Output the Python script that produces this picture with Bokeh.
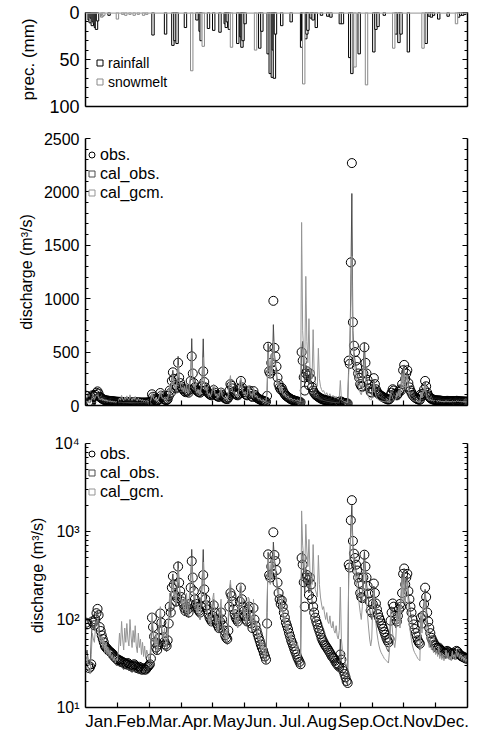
import numpy as np
from bokeh.plotting import figure
from bokeh.models import Range1d, FixedTicker, LinearAxis, LogAxis, Legend, LegendItem, Span
from bokeh.layouts import column
from bokeh.embed import file_html
from bokeh.resources import INLINE

FONT = "Liberation Sans"
DAYS = 365

months = ["Jan.", "Feb.", "Mar.", "Apr.", "May", "Jun.", "Jul.", "Aug.",
          "Sep.", "Oct.", "Nov.", "Dec."]

# daily discharge (m3/s), one row per month
obs = [
    92, 88, 30, 28, 29, 31, 95, 92, 86, 100, 118, 132, 112, 82, 74, 66, 60, 55, 50, 48, 47, 45, 44, 43, 42, 41, 40, 38, 37, 36, 35,
    35, 34, 34, 33, 33, 32, 32, 31, 31, 32, 31, 30, 30, 29, 30, 31, 30, 29, 28, 28, 29, 28, 27, 27, 28, 27, 27, 28,
    29, 30, 31, 36, 105, 82, 64, 55, 48, 45, 52, 62, 117, 92, 76, 63, 56, 52, 50, 58, 90, 140, 120, 230, 311, 250, 190, 160, 175, 400, 262,
    210, 180, 160, 150, 135, 125, 140, 130, 120, 150, 230, 460, 300, 210, 170, 150, 140, 130, 125, 120, 140, 180, 320, 220, 170, 145, 130, 115, 105, 100,
    95, 110, 145, 120, 100, 90, 85, 80, 95, 120, 100, 85, 75, 66, 62, 60, 75, 140, 200, 185, 160, 130, 115, 105, 100, 95, 110, 160, 230, 170, 140,
    125, 110, 100, 95, 130, 140, 110, 90, 80, 135, 100, 85, 75, 68, 62, 57, 52, 48, 45, 41, 38, 35, 90, 550, 320, 300, 400, 330, 980, 540,
    460, 365, 262, 200, 170, 150, 165, 140, 120, 105, 92, 85, 78, 70, 64, 58, 54, 50, 46, 43, 40, 37, 35, 33, 31, 500, 420, 265, 140, 300, 320,
    280, 190, 300, 250, 170, 140, 120, 105, 95, 88, 80, 74, 68, 62, 58, 55, 52, 50, 48, 46, 44, 42, 40, 38, 37, 36, 34, 32, 31, 30, 29,
    40, 35, 28, 26, 24, 22, 20, 19, 420, 390, 1340, 2270, 780, 560, 500, 420, 360, 300, 260, 200, 180, 175, 300, 545, 400, 300, 240, 197, 160, 127,
    120, 150, 256, 200, 152, 130, 115, 105, 98, 90, 84, 78, 72, 67, 62, 58, 55, 60, 97, 120, 152, 140, 110, 100, 95, 110, 130, 150, 140, 200, 330,
    380, 250, 300, 330, 210, 170, 140, 120, 100, 88, 78, 70, 64, 58, 55, 53, 105, 90, 110, 150, 230, 180, 120, 95, 80, 70, 62, 58, 55, 52,
    50, 48, 47, 48, 46, 45, 44, 43, 42, 41, 42, 44, 43, 42, 41, 40, 41, 42, 41, 40, 44, 43, 41, 40, 39, 38, 38, 37, 37, 36, 36,
]

cal_obs = [
    40, 45, 35, 32, 30, 60, 90, 80, 75, 95, 110, 125, 90, 70, 62, 56, 50, 46, 44, 42, 40, 39, 37, 36, 35, 34, 33, 32, 31, 30, 30,
    30, 29, 31, 30, 28, 27, 29, 28, 27, 28, 26, 27, 26, 25, 27, 26, 25, 26, 25, 24, 26, 25, 24, 25, 26, 25, 24, 26,
    27, 28, 30, 45, 95, 70, 55, 48, 43, 40, 48, 75, 110, 80, 62, 54, 48, 45, 43, 55, 95, 170, 110, 260, 330, 210, 170, 140, 190, 460, 250,
    190, 160, 140, 150, 120, 110, 160, 120, 105, 180, 260, 626, 270, 190, 150, 130, 120, 115, 105, 100, 150, 260, 624, 230, 160, 130, 115, 100, 92, 88,
    100, 140, 170, 110, 90, 80, 75, 70, 110, 140, 90, 75, 65, 58, 55, 52, 90, 180, 250, 160, 130, 110, 100, 92, 88, 84, 130, 190, 240, 150, 120,
    105, 95, 88, 85, 150, 160, 100, 82, 72, 150, 95, 78, 68, 60, 54, 50, 46, 42, 39, 36, 34, 32, 120, 580, 300, 260, 420, 300, 757, 480,
    400, 300, 220, 180, 150, 130, 160, 120, 100, 88, 78, 70, 64, 58, 53, 49, 45, 42, 39, 36, 34, 32, 30, 29, 28, 520, 600, 300, 200, 380, 340,
    260, 200, 320, 220, 160, 130, 110, 96, 86, 78, 72, 66, 60, 56, 52, 48, 45, 42, 40, 38, 36, 34, 32, 31, 30, 29, 28, 27, 26, 26, 25,
    60, 30, 26, 24, 22, 20, 19, 18, 380, 450, 1100, 1985, 700, 500, 420, 360, 300, 260, 220, 180, 160, 200, 380, 592, 350, 260, 200, 160, 130, 110,
    100, 140, 240, 170, 130, 110, 95, 85, 78, 72, 66, 60, 56, 52, 48, 45, 43, 50, 110, 140, 130, 100, 88, 80, 100, 130, 150, 120, 180, 330, 250,
    380, 220, 280, 310, 190, 150, 120, 100, 85, 74, 66, 60, 55, 50, 47, 45, 110, 80, 120, 160, 220, 150, 100, 80, 68, 60, 54, 50, 47, 45,
    44, 42, 41, 43, 40, 39, 38, 37, 36, 36, 40, 38, 37, 36, 35, 36, 40, 37, 36, 35, 42, 39, 37, 36, 35, 34, 34, 33, 33, 32, 32,
]

cal_gcm = [
    35, 38, 28, 25, 24, 40, 70, 60, 55, 80, 95, 100, 70, 60, 55, 65, 48, 60, 42, 55, 40, 48, 38, 45, 36, 40, 34, 38, 32, 36, 34,
    45, 70, 50, 95, 60, 45, 80, 55, 90, 60, 50, 100, 65, 48, 75, 55, 85, 50, 42, 70, 48, 60, 40, 55, 38, 50, 36, 45,
    40, 35, 38, 55, 120, 80, 60, 50, 70, 45, 60, 90, 140, 90, 70, 60, 80, 55, 50, 70, 120, 200, 140, 220, 280, 180, 200, 150, 230, 380, 240,
    200, 150, 170, 130, 180, 120, 200, 130, 110, 220, 300, 500, 250, 170, 200, 140, 120, 150, 110, 100, 170, 300, 450, 220, 150, 170, 120, 95, 110, 85,
    120, 170, 200, 120, 90, 110, 75, 90, 130, 170, 95, 80, 70, 60, 75, 55, 110, 220, 280, 180, 140, 120, 130, 95, 100, 80, 150, 230, 260, 170, 130,
    110, 130, 90, 100, 180, 170, 95, 110, 75, 170, 110, 80, 95, 65, 60, 70, 50, 45, 55, 40, 38, 45, 150, 500, 350, 250, 480, 280, 600, 420,
    360, 260, 200, 220, 140, 120, 180, 110, 95, 110, 80, 75, 90, 65, 60, 70, 55, 50, 60, 48, 45, 55, 42, 40, 38, 1714, 700, 500, 350, 1209, 600,
    400, 813, 350, 300, 250, 710, 300, 220, 200, 180, 536, 250, 180, 150, 130, 140, 115, 100, 120, 95, 90, 110, 85, 80, 95, 75, 70, 85, 65, 60, 75,
    234, 60, 45, 40, 35, 32, 30, 28, 300, 500, 900, 1400, 600, 420, 350, 280, 230, 190, 150, 120, 100, 140, 300, 450, 250, 150, 110, 80, 60, 50,
    60, 150, 220, 130, 90, 70, 58, 50, 45, 42, 40, 38, 36, 35, 34, 33, 32, 45, 120, 100, 70, 55, 48, 60, 120, 90, 140, 80, 170, 300, 160,
    350, 150, 250, 280, 130, 90, 70, 58, 50, 45, 42, 40, 38, 36, 35, 34, 120, 70, 140, 130, 200, 100, 70, 55, 48, 60, 45, 50, 42, 48,
    40, 45, 38, 50, 36, 42, 35, 40, 34, 38, 45, 36, 42, 35, 38, 34, 44, 36, 40, 35, 46, 38, 42, 36, 40, 35, 38, 34, 36, 33, 35,
]

# precipitation events: day of year and depth (mm)
rain_day = [3, 4, 5, 6, 7, 8, 9, 10, 11, 22, 64, 76, 83, 85, 87, 95, 106, 109, 110,
            117, 122, 128, 133, 134, 135, 137, 145, 148, 149, 150, 152, 166, 168,
            174, 176, 178, 179, 180, 181, 187, 196, 206, 207, 210, 211, 212, 215,
            217, 220, 225, 231, 234, 243, 245, 252, 254, 261, 275, 277, 279, 285,
            296, 299, 301, 308, 325, 328, 330, 332, 337, 346, 356, 358, 360, 362]
rain_mm = [8, 11, 6, 14, 10, 12, 16, 18, 9, 3, 24, 23, 35, 30, 33, 16, 8, 20, 30,
           17, 19, 21, 12, 16, 10, 18, 33, 26, 37, 30, 12, 38, 20,
           44, 65, 69, 40, 70, 23, 14, 10, 37, 30, 28, 23, 19, 6,
           8, 16, 3, 4, 5, 12, 12, 48, 65, 44, 42, 18, 15, 3,
           23, 32, 23, 42, 33, 4, 5, 3, 7, 4, 5, 3, 3, 2]
melt_day = [15, 16, 17, 30, 35, 38, 42, 46, 50, 55, 58, 101, 112, 139, 162, 208,
            257, 268, 294, 322, 354]
melt_mm = [5, 4, 3, 7, 2, 3, 2, 3, 2, 3, 2, 62, 36, 37, 40, 76, 58, 77, 38, 38, 12]

W = 482
x_day = (np.arange(DAYS) + 0.5) * 12 / DAYS


def to_x(days):
    return (np.asarray(days, dtype=float) + 0.5) * 12 / DAYS


def make_fig(height, y_range, top, bottom, left, right, y_type="linear"):
    p = figure(width=W, height=height, x_range=Range1d(0, 12), y_range=y_range,
               y_axis_type=y_type, output_backend="svg", toolbar_location=None,
               min_border_top=top, min_border_bottom=bottom,
               min_border_left=left, min_border_right=right)
    p.grid.visible = False
    p.outline_line_color = None
    p.background_fill_color = "white"
    p.border_fill_color = "white"
    return p


def hide_labels(ax):
    ax.major_label_text_font_size = "1px"
    ax.major_label_text_color = None
    ax.major_label_standoff = 0


def style_y(ax, size=None, label_size=None):
    ax.axis_line_color = "black"
    ax.axis_line_width = 1.5
    ax.major_tick_in = 5
    ax.major_tick_out = 0
    ax.minor_tick_in = 3
    ax.minor_tick_out = 0
    ax.major_tick_line_color = "black"
    ax.minor_tick_line_color = "black"
    ax.major_tick_line_width = 1.2
    ax.minor_tick_line_width = 1
    ax.major_label_text_font = FONT
    ax.axis_label_text_font = FONT
    ax.axis_label_text_font_style = "normal"
    ax.axis_label_text_color = "black"
    ax.major_label_text_color = "black"
    if size is None:
        hide_labels(ax)
    else:
        ax.major_label_text_font_size = size
        ax.axis_label_text_font_size = label_size or size


def style_x(ax, labels):
    ax.ticker = FixedTicker(ticks=[k + 0.5 for k in range(12)],
                            minor_ticks=list(range(1, 12)))
    ax.axis_line_color = "black"
    ax.axis_line_width = 1.5
    ax.major_tick_in = 0
    ax.major_tick_out = 0
    ax.minor_tick_in = 5
    ax.minor_tick_out = 0
    ax.minor_tick_line_color = "black"
    ax.minor_tick_line_width = 1.2
    ax.major_label_text_font = FONT
    ax.major_label_text_color = "black"
    if labels:
        ax.major_label_overrides = {k + 0.5: months[k] for k in range(12)}
        ax.major_label_text_font_size = "17px"
        ax.major_label_standoff = 4
    else:
        hide_labels(ax)


def make_legend(items, loc, size):
    return Legend(items=items, location=loc, padding=0, margin=0, spacing=0,
                  glyph_width=15, glyph_height=19, label_height=19,
                  label_standoff=1, border_line_color=None,
                  background_fill_alpha=0, label_text_font=FONT,
                  label_text_font_size=size, label_text_color="black")


def key_square(p, x, y, color):
    # zero-size marker anchored on a data point; only its legend swatch shows
    return p.scatter(x=x, y=y, marker="square", size=0, fill_color="white",
                     line_color=color, line_width=1)


# ---- precipitation panel (inverted axis, bars hang from the top) ----
p1 = make_fig(120, Range1d(100, 0), 12, 14, 85, 2)
bw = 2.3 * 12 / DAYS
r_rain = p1.vbar(x=to_x(rain_day), width=bw, top=rain_mm, bottom=0,
                 fill_color="white", line_color="black", line_width=1)
r_melt = p1.vbar(x=to_x(melt_day), width=bw, top=melt_mm, bottom=0,
                 fill_color="white", line_color="#8a8a8a", line_width=1)
p1.add_layout(Span(location=0, dimension="width", line_color="#a8a8a8", line_width=2.5))
prec_ticker = FixedTicker(ticks=[0, 50, 100], minor_ticks=list(range(10, 100, 10)))
ya = p1.yaxis[0]
ya.ticker = prec_ticker
style_y(ya, "18px", "17px")
ya.axis_label = "prec. (mm)"
ya.major_label_standoff = 6
ya.axis_label_standoff = 8
ra = LinearAxis(ticker=prec_ticker)
style_y(ra)
p1.add_layout(ra, "right")
xa = p1.xaxis[0]
style_x(xa, False)
xa.minor_tick_in = 0
k_r = key_square(p1, to_x(rain_day[:1]), rain_mm[:1], "black")
k_m = key_square(p1, to_x(melt_day[:1]), melt_mm[:1], "#8a8a8a")
p1.add_layout(make_legend([LegendItem(label="rainfall", renderers=[k_r]),
                           LegendItem(label="snowmelt", renderers=[k_m])],
                          (7, 15), "14px"))


def discharge_panel(p, loc):
    r_obs = p.scatter(x=x_day, y=obs, marker="circle", size=9, fill_color=None,
                      line_color="black", line_width=1)
    p.line(x=x_day, y=cal_obs, line_color="#4a4a4a", line_width=1)
    p.line(x=x_day, y=cal_gcm, line_color="#959595", line_width=1)
    s1 = key_square(p, x_day[:1], cal_obs[:1], "#4a4a4a")
    s2 = key_square(p, x_day[:1], cal_gcm[:1], "#959595")
    p.add_layout(make_legend([LegendItem(label="obs.", renderers=[r_obs]),
                              LegendItem(label="cal_obs.", renderers=[s1]),
                              LegendItem(label="cal_gcm.", renderers=[s2])],
                             loc, "16px"))


# ---- linear discharge panel ----
p2 = make_fig(305, Range1d(0, 2500), 18, 20, 76, 15)
discharge_panel(p2, (-1, 203))
lin_ticker = FixedTicker(ticks=[0, 500, 1000, 1500, 2000, 2500],
                         minor_ticks=[v for v in range(100, 2500, 100) if v % 500])
ya2 = p2.yaxis[0]
ya2.ticker = lin_ticker
style_y(ya2, "16px")
ya2.axis_label = "discharge (m\u00b3/s)"
ya2.major_label_standoff = 6
ya2.axis_label_standoff = 6
ra2 = LinearAxis(ticker=lin_ticker)
style_y(ra2)
p2.add_layout(ra2, "right")
style_x(p2.xaxis[0], False)

# ---- log discharge panel ----
p3 = make_fig(310, Range1d(10, 10000), 18, 28, 76, 14, y_type="log")
discharge_panel(p3, (-1, 206))
log_minor = [m * d for d in (10, 100, 1000) for m in range(2, 10)]
log_ticker = FixedTicker(ticks=[10, 100, 1000, 10000], minor_ticks=log_minor)
ya3 = p3.yaxis[0]
ya3.ticker = log_ticker
style_y(ya3, "16px")
ya3.major_label_overrides = {10: "10\u00b9", 100: "10\u00b2", 1000: "10\u00b3", 10000: "10\u2074"}
ya3.axis_label = "discharge (m\u00b3/s)"
ya3.major_label_standoff = 6
ya3.axis_label_standoff = 6
ra3 = LogAxis(ticker=log_ticker)
style_y(ra3)
p3.add_layout(ra3, "right")
style_x(p3.xaxis[0], True)

layout = column(p1, p2, p3, spacing=0)
open("out.html", "w").write(file_html(layout, INLINE))
